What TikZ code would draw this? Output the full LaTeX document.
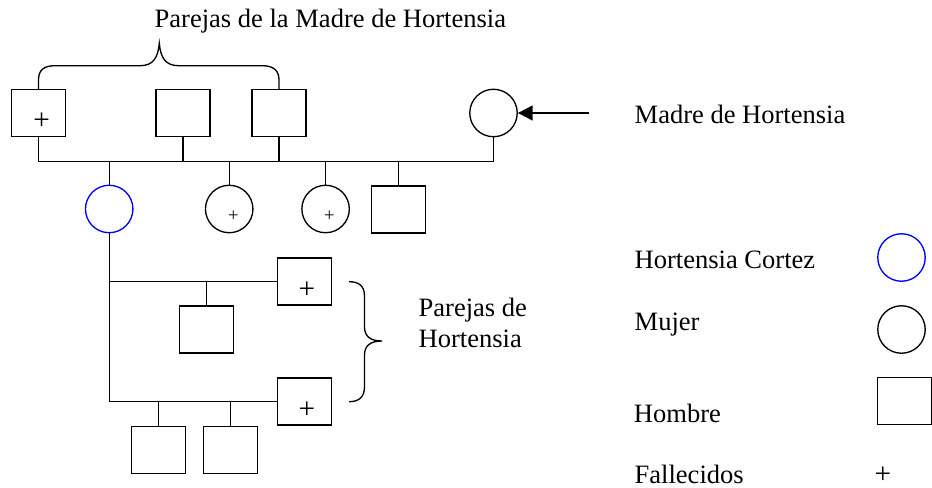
\documentclass[tikz,border=0pt]{standalone}
\usepackage{fontspec}
\setmainfont{Liberation Serif}
\usetikzlibrary{arrows.meta}

\begin{document}
\begin{tikzpicture}[x=0.75pt,y=0.75pt,yscale=-1,xscale=1,line width=1pt,
    hombre/.style={draw,rectangle,minimum width=40.5pt,minimum height=35.25pt,inner sep=0pt},
    mujer/.style={draw,circle,minimum size=35.6pt,inner sep=0pt},
    texto/.style={anchor=base west,inner sep=0pt,font=\fontsize{19.9}{23}\selectfont},
    cruz/.style={inner sep=0pt,font=\fontsize{22}{24}\selectfont},
    cruzchica/.style={inner sep=0pt,font=\fontsize{14}{16}\selectfont}]
    \useasboundingbox (0,0) rectangle (932,488);
    % Madre y sus parejas
    \node [hombre] (p1) at (38.5,113) {};
    \node [hombre] (p2) at (183,113) {};
    \node [hombre] (p3) at (279,113) {};
    \node [mujer] (madre) at (493.5,113) {};
    \node [cruz] (c1) at (41.7,121.7) {+};
    % Hijos de la madre
    \node [mujer,draw=blue] (hortensia) at (109.2,209) {};
    \node [mujer] (hija1) at (229.2,209) {};
    \node [mujer] (hija2) at (325.6,209) {};
    \node [hombre] (hijo) at (398.5,209.5) {};
    \node [cruzchica] (c2) at (233.3,216) {+};
    \node [cruzchica] (c3) at (329.3,216) {+};
    % Parejas e hijos de Hortensia
    \node [hombre] (pareja1) at (304.5,281.5) {};
    \node [hombre] (pareja2) at (304.5,401.5) {};
    \node [cruz] (c4) at (307,290) {+};
    \node [cruz] (c5) at (307,410) {+};
    \node [hombre] (nieto1) at (206.5,329.5) {};
    \node [hombre] (nieto2) at (158.5,450) {};
    \node [hombre] (nieto3) at (230.5,450) {};
    % Lineas
    \coordinate (linea) at (0,161.7);
    \draw (p1.south) |- (madre.south |- linea) -- (madre.south);
    \draw (p2.south) -- (p2.south |- linea);
    \draw (p3.south) -- (p3.south |- linea);
    \draw (hortensia.north) -- (hortensia.north |- linea);
    \draw (hija1.north) -- (hija1.north |- linea);
    \draw (hija2.north) -- (hija2.north |- linea);
    \draw (hijo.north) -- (hijo.north |- linea);
    \draw (hortensia.south) |- (pareja2.west);
    \draw (hortensia.south |- pareja1.west) -- (pareja1.west);
    \draw (nieto1.north) -- (nieto1.north |- pareja1.west);
    \draw (nieto2.north) -- (nieto2.north |- pareja2.west);
    \draw (nieto3.north) -- (nieto3.north |- pareja2.west);
    % Flecha
    \coordinate (flecha) at (589,113);
    \draw [-{Triangle[length=11pt,width=11pt]},line width=1.5pt] (flecha) -- (madre);
    % Llaves
    \draw (p1.north) -- (38.5,80) .. controls (38.5,70) and (44,65.7) .. (55,65.7) -- (140,65.7) .. controls (153,65.7) and (158,58) .. (159.3,43.3) .. controls (160.6,58) and (165.6,65.7) .. (178.6,65.7) -- (262,65.7) .. controls (273,65.7) and (279,70) .. (279,80) -- (p3.north);
    \draw (349,281.7) .. controls (359,281.7) and (364.5,286) .. (364.5,296) -- (364.5,327) .. controls (364.5,336) and (370,341) .. (382,341) .. controls (370,341) and (364.5,346) .. (364.5,355) -- (364.5,387) .. controls (364.5,397) and (359,401.7) .. (349,401.7);
    % Textos
    \node [texto] (titulo) at (154,27.7) {Parejas de la Madre de Hortensia};
    \node [texto,align=left] (parejas) at (418,347.3) {Parejas de\\Hortensia};
    \node [texto] (tmadre) at (634,124) {Madre de Hortensia};
    % Leyenda
    \node [texto] (thortensia) at (634,268.3) {Hortensia Cortez};
    \node [texto] (tmujer) at (634,330) {Mujer};
    \node [texto] (thombre) at (633.3,422.3) {Hombre};
    \node [texto] (tfallecidos) at (634,483.3) {Fallecidos};
    \node [mujer,draw=blue] (lhortensia) at (901.5,257.5) {};
    \node [mujer] (lmujer) at (901.5,329.5) {};
    \node [hombre] (lhombre) at (904.5,401) {};
    \node [cruz] (lcruz) at (883,475) {+};
\end{tikzpicture}
\end{document}
